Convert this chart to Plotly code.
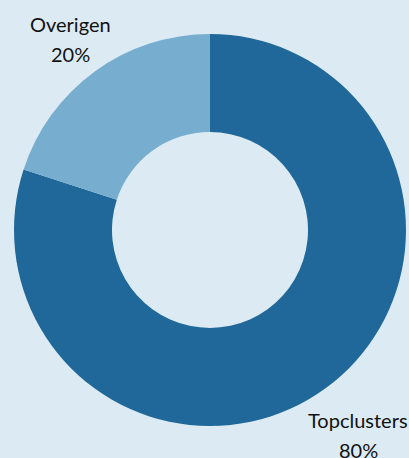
import plotly.graph_objects as go

labels = ["Topclusters", "Overigen"]
values = [80, 20]
colors = ["#1f6899", "#77adcf"]

W, H = 409, 458
M = dict(l=14, r=3, t=34, b=32)

fig = go.Figure(go.Pie(
    labels=labels,
    values=values,
    hole=0.5,
    sort=False,
    direction="clockwise",
    rotation=0,
    marker=dict(colors=colors, line=dict(width=0)),
    textinfo="none",
    showlegend=False,
    hoverinfo="label+percent",
))

def px_to_paper(px, py):
    pw = W - M["l"] - M["r"]
    ph = H - M["t"] - M["b"]
    return (px - M["l"]) / pw, (H - M["b"] - py) / ph

total = sum(values)
# label anchor pixels: (x center, name line y, percent line y)
label_px = {
    "Topclusters": (358, 420, 450),
    "Overigen": (70, 24, 54),
}
font = dict(family="Lato", size=20, color="#111111")
for lab, val in zip(labels, values):
    cx, y1, y2 = label_px[lab]
    x, ya = px_to_paper(cx, y1)
    _, yb = px_to_paper(cx, y2)
    fig.add_annotation(x=x, y=ya, xref="paper", yref="paper", text=lab,
                       showarrow=False, xanchor="center", yanchor="middle", font=font)
    fig.add_annotation(x=x, y=yb, xref="paper", yref="paper",
                       text=f"{round(100 * val / total)}%",
                       showarrow=False, xanchor="center", yanchor="middle", font=font)

fig.update_layout(
    width=W, height=H,
    margin=M,
    paper_bgcolor="#dcebf3",
    plot_bgcolor="#dcebf3",
)
fig.write_html("out.html", config={"displayModeBar": False},
               post_script="document.body.style.margin='0';document.body.style.background='#dcebf3';")
